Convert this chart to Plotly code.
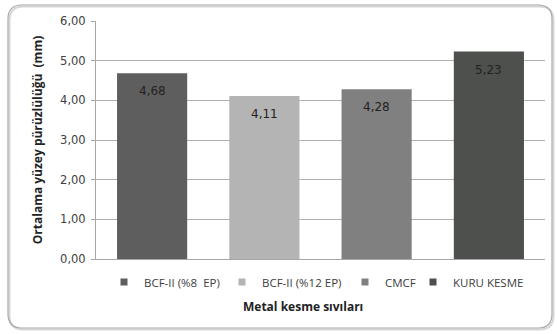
import plotly.graph_objects as go

# Surface roughness by metal cutting fluid
categories = ["BCF-II (%8\u00a0 EP)", "BCF-II (%12 EP)", "CMCF", "KURU KESME"]
roughness = [4.68, 4.11, 4.28, 5.23]
colors = ["#5e5e5e", "#b4b4b4", "#808080", "#4d504d"]
y_ticks = [0, 1, 2, 3, 4, 5, 6]

W, H = 557, 334
L, R, T, B = 96, 12, 21, 75
PW, PH = W - L - R, H - T - B


def px(p):
    return (p - L) / PW


def py(p):
    return (H - B - p) / PH


fig = go.Figure()

legend_names = ["legend", "legend2", "legend3", "legend4"]
legend_x = [104, 222, 345, 413]

for i, (cat, val, col) in enumerate(zip(categories, roughness, colors)):
    fig.add_trace(go.Bar(
        x=[cat], y=[val], marker=dict(color=col, line=dict(width=0)),
        width=0.625, showlegend=False, legendgroup=cat, hoverinfo="y",
    ))
    fig.add_trace(go.Scatter(
        x=[cat], y=[None], mode="markers", name=cat, legendgroup=cat,
        marker=dict(symbol="square", size=7, color=col),
        legend=legend_names[i],
    ))
    fig.add_annotation(
        x=cat, y=val, xref="x", yref="y", text=f"{val:.2f}".replace(".", ","),
        showarrow=False, yanchor="middle", yshift=-18,
        font=dict(family="DejaVu Sans", size=12, color="#222222"),
    )

legend_font = dict(family="Open Sans", size=11.5, color="#404040")
layout_legends = {}
for name, xp in zip(legend_names, legend_x):
    layout_legends[name] = dict(
        orientation="h", x=px(xp), xanchor="left", y=py(282), yanchor="middle",
        font=legend_font, bgcolor="rgba(0,0,0,0)", borderwidth=0,
        itemclick=False, itemdoubleclick=False,
    )

# Rounded chart border with a faint shadow
def rounded_path(x0, y0, x1, y1, r):
    return (
        f"M {px(x0 + r)},{py(y0)} L {px(x1 - r)},{py(y0)} "
        f"Q {px(x1)},{py(y0)} {px(x1)},{py(y0 + r)} "
        f"L {px(x1)},{py(y1 - r)} Q {px(x1)},{py(y1)} {px(x1 - r)},{py(y1)} "
        f"L {px(x0 + r)},{py(y1)} Q {px(x0)},{py(y1)} {px(x0)},{py(y1 - r)} "
        f"L {px(x0)},{py(y0 + r)} Q {px(x0)},{py(y0)} {px(x0 + r)},{py(y0)} Z"
    )

fig.add_shape(type="path", xref="paper", yref="paper",
              path=rounded_path(9.5, 6.5, 553.5, 329.5, 14),
              line=dict(color="#d6d6d6", width=2), layer="below")
fig.add_shape(type="path", xref="paper", yref="paper",
              path=rounded_path(8, 5, 552, 328, 14),
              line=dict(color="#a8a8a8", width=1.2), layer="below")

title_font = dict(family="Open Sans", size=12, color="#222222", weight="bold")

fig.add_annotation(
    text="Metal kesme sıvıları", xref="paper", yref="paper",
    x=px(303), y=py(306), showarrow=False, xanchor="center", yanchor="middle",
    font=title_font,
)

fig.update_layout(
    width=W, height=H,
    margin=dict(l=L, r=R, t=T, b=B),
    paper_bgcolor="white", plot_bgcolor="white",
    barmode="overlay",
    showlegend=True,
    **layout_legends,
    xaxis=dict(
        type="category", categoryorder="array", categoryarray=categories,
        showticklabels=False, ticks="", showgrid=False,
        showline=True, linecolor="#a6a6a6", linewidth=1,
        range=[-0.5, 3.5], fixedrange=True,
    ),
    yaxis=dict(
        range=[0, 6], tickvals=y_ticks, tickformat=".2f",
        showgrid=True, gridcolor="#b0b0b0", gridwidth=1,
        showline=True, linecolor="#a6a6a6", linewidth=1,
        ticks="outside", ticklen=4, tickcolor="#a6a6a6", ticklabelstandoff=3,
        tickfont=dict(family="DejaVu Sans", size=11.5, color="#404040"),
        zeroline=False, fixedrange=True,
        title=dict(text="Ortalama yüzey pürüzlülüğü\u00a0 (mm)", standoff=14,
                   font=title_font),
    ),
    separators=",.",
)

fig.write_html("out.html")
